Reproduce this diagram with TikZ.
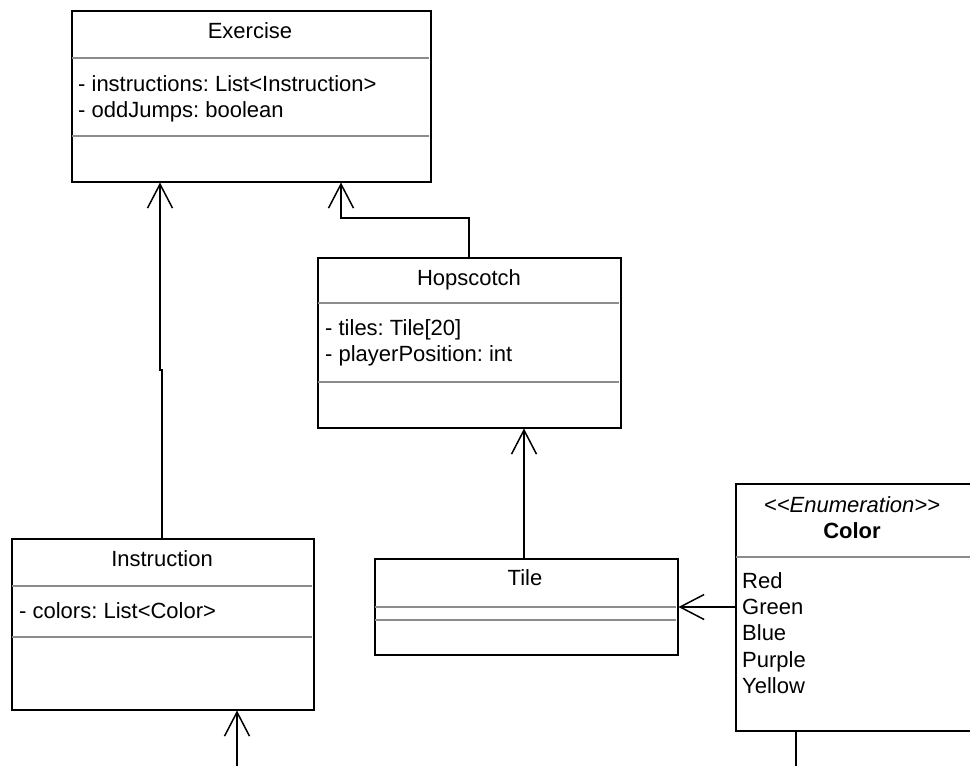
\documentclass[tikz,border=0pt]{standalone}
\usepackage{fontspec}
\setmainfont{Liberation Sans}
\usetikzlibrary{arrows.meta}
\frenchspacing
\begin{document}
\begin{tikzpicture}[x=1pt,y=-1pt,
  box/.style={draw=black, line width=1.5pt, fill=white, rectangle, anchor=north west, inner sep=0pt},
  divider/.style={draw=black!45, line width=1.5pt},
  conn/.style={draw=black, line width=1.5pt},
  openarrow/.style={-{Straight Barb[length=24pt,width=25pt,line width=1.5pt]}},
  title/.style={font=\fontsize{22}{26}\selectfont, anchor=base},
  attr/.style={font=\fontsize{22}{26}\selectfont, anchor=base west, inner sep=0pt},
]
\useasboundingbox (0,0) rectangle (970,766);

% Exercise
\node[box, minimum width=359pt, minimum height=171pt] (ex) at (71,10) {};
\draw[divider] (71.75,58) -- (429.25,58);
\draw[divider] (71.75,136) -- (429.25,136);
\node[title] (extitle) at (250,38) {Exercise};
\node[attr] (exa1) at (78,91) {- instructions: List\textless Instruction\textgreater};
\node[attr] (exa2) at (78,117) {- oddJumps: boolean};

% Hopscotch
\node[box, minimum width=303pt, minimum height=170pt] (hop) at (317,257) {};
\draw[divider] (317.75,303) -- (619.25,303);
\draw[divider] (317.75,382) -- (619.25,382);
\node[title] (hoptitle) at (469,285) {Hopscotch};
\node[attr] (hopa1) at (325,335) {- tiles: Tile[20]};
\node[attr] (hopa2) at (325,361) {- playerPosition: int};

% Instruction
\node[box, minimum width=302pt, minimum height=171pt] (ins) at (11,538) {};
\draw[divider] (11.75,586) -- (312.25,586);
\draw[divider] (11.75,637) -- (312.25,637);
\node[title] (institle) at (162,566) {Instruction};
\node[attr] (insa1) at (19,618) {- colors: List\textless Color\textgreater};

% Tile
\node[box, minimum width=303pt, minimum height=96pt] (tile) at (374,558) {};
\draw[divider] (374.75,607) -- (676.25,607);
\draw[divider] (374.75,620) -- (676.25,620);
\node[title] (tiletitle) at (525,585) {Tile};

% Color enumeration
\node[box, minimum width=240pt, minimum height=247pt] (col) at (735,483) {};
\draw[divider] (735.75,557) -- (975,557);
\node[title] (colster) at (852,512) {\itshape \textless{}\textless{}Enumeration\textgreater{}\textgreater{}};
\node[title] (colname) at (852,538) {\bfseries Color};
\node[attr] (c1) at (742,588) {Red};
\node[attr] (c2) at (742,614) {Green};
\node[attr] (c3) at (742,640) {Blue};
\node[attr] (c4) at (742,667) {Purple};
\node[attr] (c5) at (742,693) {Yellow};

% off-page ends
\coordinate (insin) at (237,770);
\coordinate (colout) at (796,770);

% connectors
\draw[conn, openarrow] (ins.north -| 162,0) -- (162,370) -- (160,370) -- (ex.south -| 160,0);
\draw[conn, openarrow] (hop.north -| 469,0) -- (469,218) -- (341,218) -- (ex.south -| 341,0);
\draw[conn, openarrow] (tile.north -| 524,0) -- (hop.south -| 524,0);
\draw[conn, openarrow] (col.west |- 0,607) -- (tile.east |- 0,607);
\draw[conn, openarrow] (insin) -- (ins.south -| 237,0);
\draw[conn] (col.south -| 796,0) -- (colout);
\end{tikzpicture}
\end{document}
